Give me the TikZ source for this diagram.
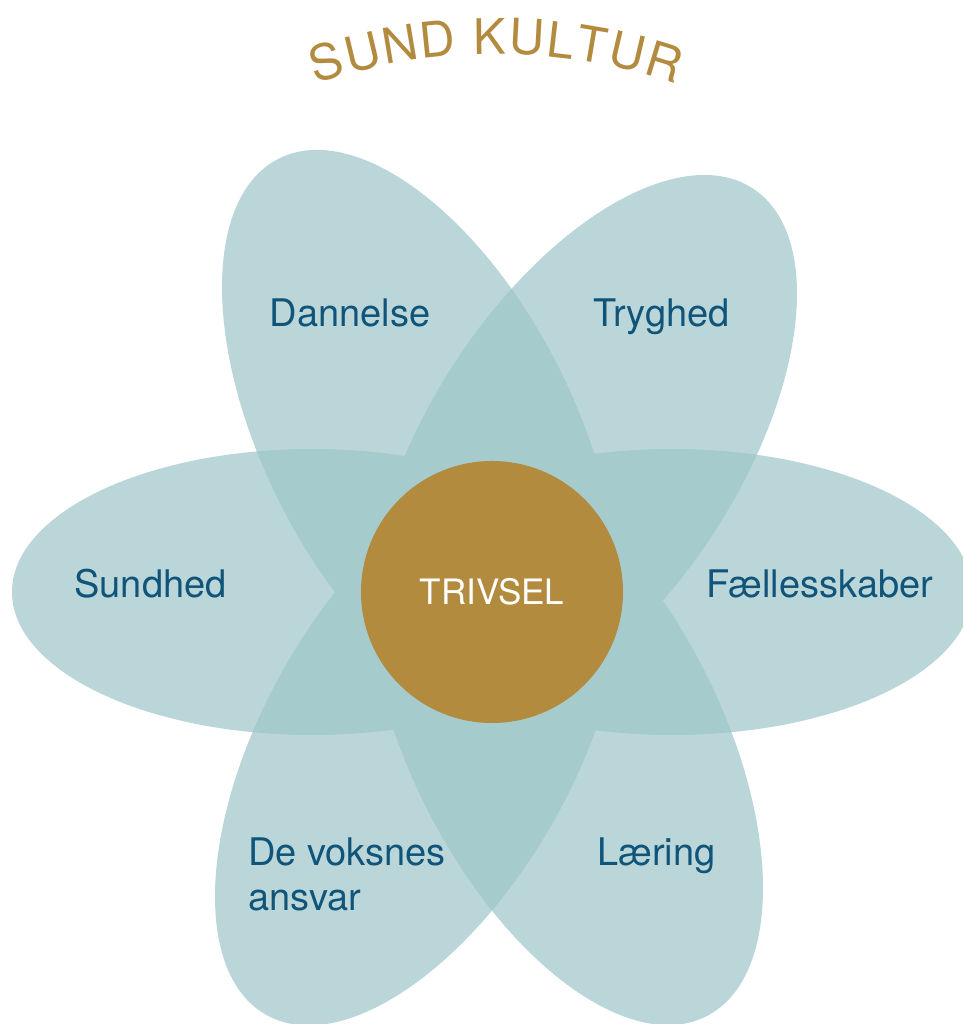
\documentclass[tikz,border=0pt]{standalone}
\usepackage{fontspec}
\setmainfont{TeX Gyre Heros}
\definecolor{petallight}{HTML}{BBD6D9}
\definecolor{petaldark}{HTML}{A6CBCD}
\definecolor{gold}{HTML}{B28B3F}
\definecolor{labelblue}{HTML}{10547A}
\tikzset{petal/.style={fill=petallight},
         overlap/.style={fill=petaldark},
         leaflabel/.style={text=labelblue,font=\fontsize{38}{45}\selectfont,inner sep=0pt},
         titleletter/.style={text=gold,font=\fontsize{49}{54}\selectfont,inner sep=0pt,anchor=base},
         centre/.style={circle,fill=gold,text=white,inner sep=0pt,minimum size=262pt,
                        font=\fontsize{35}{40}\selectfont}}
% petals: x / y / rotation / x radius / y radius
\def\petals{312/432/0/300/143, 672/432/0/300/143,
            419.2/589/117/310/155, 583.9/575.6/57/310/155,
            418.7/279/60.5/310/155, 565.8/284/117/310/155}

\begin{document}
\begin{tikzpicture}[x=1pt,y=1pt]
        \clip (0,0) rectangle (963,1024);

        % petals
        \foreach \px/\py/\pr/\pw/\ph in \petals
            \fill[petal,shift={(\px,\py)},rotate=\pr] (0,0) ellipse [x radius=\pw pt,y radius=\ph pt];

        % darker where two petals meet
        \foreach \ax/\ay/\ar/\aw/\ah [count=\m] in \petals {
            \foreach \bx/\by/\br/\bw/\bh [count=\n] in \petals {
                \ifnum\m<\n
                \begin{scope}
                    \clip[shift={(\ax,\ay)},rotate=\ar] (0,0) ellipse [x radius=\aw pt,y radius=\ah pt];
                    \fill[overlap,shift={(\bx,\by)},rotate=\br] (0,0) ellipse [x radius=\bw pt,y radius=\bh pt];
                \end{scope}
                \fi
            }
        }

        \node[centre](trivsel)at(492,432){TRIVSEL};

        \node[leaflabel,anchor=base](dannelse)at(350,697){Dannelse};
        \node[leaflabel,anchor=base](tryghed)at(661.5,697){Tryghed};
        \node[leaflabel,anchor=base](sundhed)at(150.5,426){Sundhed};
        \node[leaflabel,anchor=base](faelles)at(820,426){Fællesskaber};
        \node[leaflabel,anchor=north west,align=left](voksne)at(248,186){De voksnes\\ansvar};
        \node[leaflabel,anchor=base west](laering)at(597,158){Læring};

        % title, one letter at a time on an arc
        \foreach \ch/\ang [count=\k] in {S/107.1,U/103.4,N/99.6,D/95.8,K/90.6,U/86.9,L/83.5,T/80.4,U/76.8,R/73.0}
            \path (496,410) ++(\ang:560) node[titleletter,rotate=\ang-90](title\k){\ch};
    \end{tikzpicture}
\end{document}
